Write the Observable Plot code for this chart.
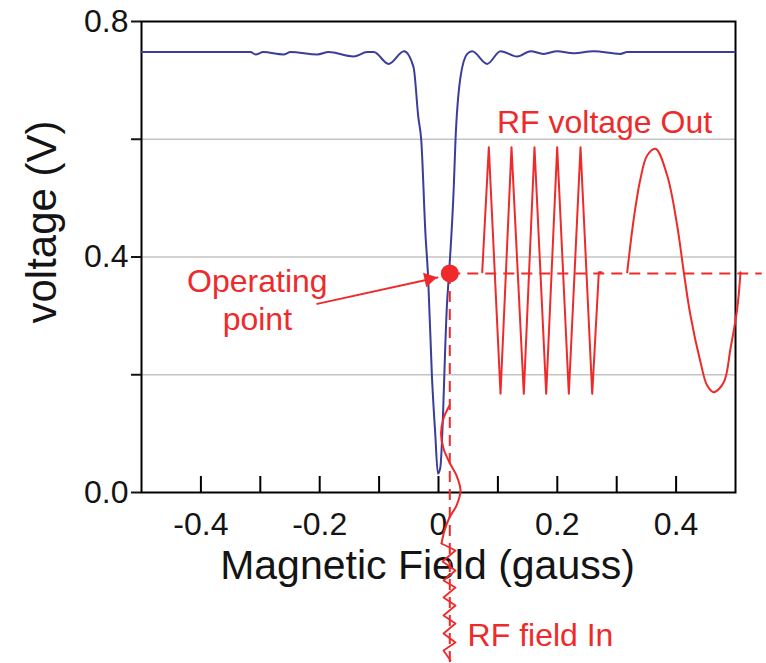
<!DOCTYPE html>
<html><head><meta charset="utf-8">
<script src="https://cdn.jsdelivr.net/npm/d3@7"></script>
<script src="https://cdn.jsdelivr.net/npm/@observablehq/plot@0.6"></script>
<style>html,body{margin:0;padding:0;background:#fff;}</style>
</head><body><div id="chart"></div>
<script>
// Resonance curve (blue): magnetic field (gauss) vs voltage (V)
const fieldGauss = [-0.5, -0.3165, -0.308, -0.295, -0.261, -0.249, -0.204, -0.185, -0.143, -0.120, -0.109, -0.084, -0.058, -0.042, -0.034, -0.029, -0.022, -0.0175, -0.011, -0.0055, -0.001, 0.003, 0.0146, 0.0173, 0.0257, 0.0286, 0.037, 0.0483, 0.0567, 0.082, 0.1044, 0.1325, 0.1549, 0.1768, 0.1998, 0.227, 0.261, 0.306, 0.3177, 0.4983];
const voltage    = [0.748, 0.748, 0.744, 0.748, 0.744, 0.748, 0.744, 0.748, 0.7406, 0.748, 0.748, 0.728, 0.7496, 0.7224, 0.6375, 0.598, 0.440, 0.366, 0.196, 0.100, 0.032, 0.042, 0.326, 0.366, 0.5186, 0.598, 0.7054, 0.745, 0.7496, 0.728, 0.7496, 0.7406, 0.7496, 0.745, 0.7496, 0.746, 0.7496, 0.745, 0.748, 0.748];

// RF voltage out: triangle wave part
const outTriX = [0.0736, 0.0847, 0.1044, 0.1229, 0.1436, 0.1616, 0.1813, 0.1998, 0.2194, 0.2391, 0.2588, 0.2699, 0.2744];
const outTriY = [0.374, 0.5865, 0.1676, 0.5865, 0.1676, 0.5865, 0.1676, 0.5865, 0.1676, 0.5865, 0.1676, 0.374, 0.374];
// RF voltage out: slow sine part
const outSineX = [0.3177, 0.3288, 0.3401, 0.3513, 0.3653, 0.3850, 0.4018, 0.4130, 0.4242, 0.4411, 0.4523, 0.4635, 0.4803, 0.4916, 0.5029, 0.5084];
const outSineY = [0.374, 0.4654, 0.5333, 0.5724, 0.5838, 0.5385, 0.4535, 0.374, 0.3006, 0.2213, 0.1817, 0.1704, 0.1873, 0.2446, 0.3125, 0.374];

// RF field in: smooth wave then zigzag (x = field, y = time axis going down)
const inWaveX = [0.0185, 0.0084, 0.0042, 0.0084, 0.0185, 0.0303, 0.0370, 0.0303, 0.0185, 0.0101, 0.0051];
const inWaveY = [0.1478, 0.1257, 0.1002, 0.0747, 0.0510, 0.0289, 0.0034, -0.0221, -0.0425, -0.0645, -0.0866];
const inZigX = [0.0051, 0.0286, 0.0067, 0.0286, 0.0084, 0.0286, 0.0084, 0.0286, 0.0084, 0.0286, 0.0084, 0.0286, 0.0084, 0.0202];
const inZigY = [-0.0866, -0.0985, -0.1172, -0.1325, -0.1495, -0.1614, -0.1783, -0.1919, -0.2089, -0.2225, -0.2395, -0.2548, -0.2684, -0.2853];

// Operating point and guide extents
const operatingPoint = [{x: 0.019, y: 0.372}];
const guideEnds = {xEnd: 0.545, yEnd: -0.3};

// Arrow from label to operating point
const arrowLine = [{x: -0.2042, y: 0.3204}, {x: -0.0017, y: 0.3652}];
const arrowHead = [{x: -0.0163, y: 0.3626}];

// Axis ticks
const yTicks = [0, 0.2, 0.4, 0.6, 0.8];
const yLabeled = [0, 0.4, 0.8];
const gridValues = [0.2, 0.4, 0.6];
const xTickMarks = [-0.4, -0.3, -0.2, -0.1, 0, 0.1, 0.2, 0.3, 0.4];
const xTickLabels = [-0.4, -0.2, 0, 0.2, 0.4];

// Annotations (centre x, baseline y)
const notes = [
  {text: "RF voltage Out", x: 0.2795, y: 0.6098},
  {text: "Operating\npoint", x: -0.305, y: 0.2752},
  {text: "RF field In", x: 0.1717, y: -0.2599}
];

const RED = "#ee2a2a", BLUE = "#3a3d99", INK = "#141414";
const pts = (xs, ys) => xs.map((x, i) => ({x, y: ys[i]}));

const chart = Plot.plot({
  width: 766, height: 663,
  marginLeft: 141, marginRight: 31, marginTop: 21, marginBottom: 171,
  x: {domain: [-0.5, 0.5]},
  y: {domain: [0, 0.8]},
  style: {fontFamily: "'Liberation Sans', Arial, sans-serif", background: "white", overflow: "visible"},
  marks: [
    Plot.ruleY(gridValues, {stroke: "#c4c4c4", strokeWidth: 1.5}),
    Plot.tickX(xTickMarks, {x: d => d, insetTop: 455, stroke: "black", strokeWidth: 2}),
    Plot.frame({stroke: "black", strokeWidth: 2}),
    Plot.axisY({ticks: yTicks, tickSize: 10, tickPadding: 3, strokeWidth: 2, fontSize: 32, color: INK,
      tickFormat: d => yLabeled.some(v => Math.abs(v - d) < 1e-9) ? d.toFixed(1) : "", label: null}),
    Plot.axisX({ticks: xTickLabels, tickSize: 0, tickPadding: 20, fontSize: 32, color: INK,
      tickFormat: d => d === 0 ? "0" : d.toFixed(1), label: null}),
    Plot.text(["Magnetic Field (gauss)"], {text: d => d, frameAnchor: "bottom", textAnchor: "middle", lineAnchor: "bottom", dx: -11, dy: 86, fontSize: 41, fill: INK}),
    Plot.text(["voltage (V)"], {text: d => d, frameAnchor: "left", textAnchor: "middle", lineAnchor: "bottom", rotate: -90, dx: -86, dy: -35, fontSize: 42, fill: INK}),
    Plot.line(pts(fieldGauss, voltage), {x: "x", y: "y", stroke: BLUE, strokeWidth: 2, curve: "monotone-x"}),
    Plot.line(pts(outTriX, outTriY), {x: "x", y: "y", stroke: RED, strokeWidth: 2}),
    Plot.line(pts(outSineX, outSineY), {x: "x", y: "y", stroke: RED, strokeWidth: 2, curve: "catmull-rom"}),
    Plot.line(pts(inWaveX, inWaveY), {x: "x", y: "y", stroke: RED, strokeWidth: 2, curve: "catmull-rom"}),
    Plot.line(pts(inZigX, inZigY), {x: "x", y: "y", stroke: RED, strokeWidth: 1.8}),
    Plot.ruleY(operatingPoint, {y: "y", x1: "x", x2: () => guideEnds.xEnd, stroke: RED, strokeWidth: 2, strokeDasharray: "11,7"}),
    Plot.ruleX(operatingPoint, {x: "x", y1: "y", y2: () => guideEnds.yEnd, stroke: RED, strokeWidth: 2, strokeDasharray: "11,7"}),
    Plot.dot(operatingPoint, {x: "x", y: "y", r: 9, fill: RED, stroke: "none"}),
    Plot.line(arrowLine, {x: "x", y: "y", stroke: RED, strokeWidth: 2}),
    Plot.dot(arrowHead, {x: "x", y: "y", symbol: "triangle", r: 5.5, rotate: 77.8, fill: RED, stroke: "none"}),
    Plot.text(notes, {x: "x", y: "y", text: "text", textAnchor: "middle", lineAnchor: "bottom", lineHeight: 1.19, fontSize: 32, fill: RED})
  ]
});
document.getElementById("chart").append(chart);
</script></body></html>
